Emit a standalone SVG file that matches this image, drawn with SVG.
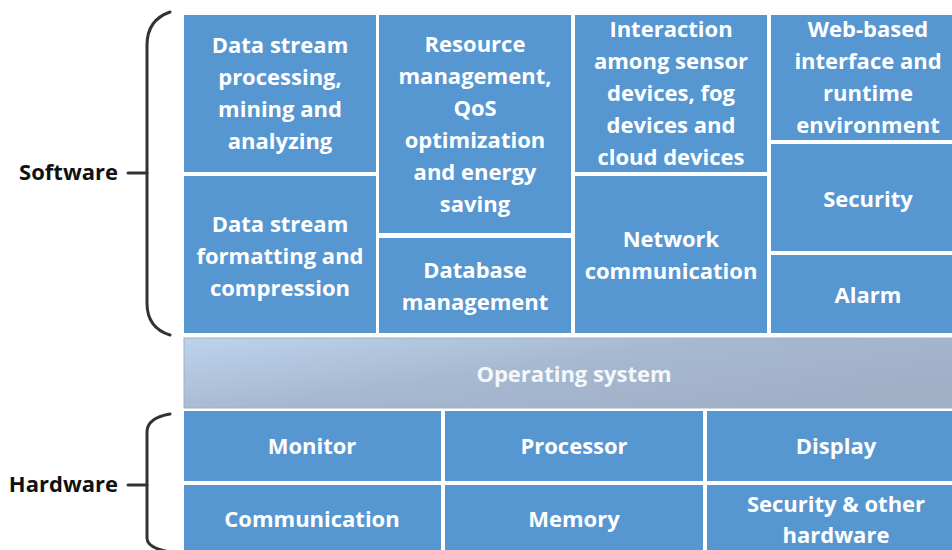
<svg xmlns="http://www.w3.org/2000/svg" width="952" height="550" viewBox="0 0 952 550">
<style>
.box{fill:#5797D1;}
.t{font-family:"Open Sans","Liberation Sans",sans-serif;font-weight:700;font-size:22px;fill:#ffffff;text-anchor:middle;}
.lab{font-family:"Open Sans","Liberation Sans",sans-serif;font-weight:700;font-size:22px;fill:#111111;text-anchor:end;}
.br{fill:none;stroke:#333333;stroke-width:3;stroke-linecap:round;}
.os{font-family:"Open Sans","Liberation Sans",sans-serif;font-weight:700;font-size:22px;fill:#f4f7fb;text-anchor:middle;}
</style>
<defs>
<linearGradient id="osg" x1="0" y1="0" x2="1" y2="0.6">
<stop offset="0" stop-color="#BDD3EC"/>
<stop offset="0.5" stop-color="#A6B9D1"/>
<stop offset="1" stop-color="#A0AFC6"/>
</linearGradient>
</defs>
<rect width="952" height="550" fill="#ffffff"/>

<g id="labels">
<g id="software-label">
<path class="br" d="M170,12 Q147,20 147,45 L147,303 Q147,328 170,335"/>
<line class="br" x1="128" y1="173" x2="147" y2="173"/>
<text class="lab" x="118" y="180">Software</text>
</g>
<g id="hardware-label">
<path class="br" d="M170,414 Q147,418 147,432 L147,538 Q147,548 170,552"/>
<line class="br" x1="128" y1="485" x2="147" y2="485"/>
<text class="lab" x="118" y="492">Hardware</text>
</g>
</g>

<g id="n1"><rect class="box" x="184" y="15" width="192" height="157"/>
<text class="t"><tspan x="280" y="53">Data stream</tspan><tspan x="280" y="85">processing,</tspan><tspan x="280" y="117">mining and</tspan><tspan x="280" y="149">analyzing</tspan></text></g>

<g id="n2"><rect class="box" x="184" y="176" width="192" height="157"/>
<text class="t"><tspan x="280" y="232">Data stream</tspan><tspan x="280" y="264">formatting and</tspan><tspan x="280" y="296">compression</tspan></text></g>

<g id="n3"><rect class="box" x="379" y="15" width="192" height="218"/>
<text class="t"><tspan x="475" y="52">Resource</tspan><tspan x="475" y="84">management,</tspan><tspan x="475" y="116">QoS</tspan><tspan x="475" y="148">optimization</tspan><tspan x="475" y="180">and energy</tspan><tspan x="475" y="212">saving</tspan></text></g>

<g id="n4"><rect class="box" x="379" y="238" width="192" height="95"/>
<text class="t"><tspan x="475" y="278">Database</tspan><tspan x="475" y="310">management</tspan></text></g>

<g id="n5"><rect class="box" x="575" y="15" width="192" height="157"/>
<text class="t"><tspan x="671" y="37">Interaction</tspan><tspan x="671" y="69">among sensor</tspan><tspan x="671" y="101">devices, fog</tspan><tspan x="671" y="133">devices and</tspan><tspan x="671" y="165">cloud devices</tspan></text></g>

<g id="n6"><rect class="box" x="575" y="176" width="192" height="157"/>
<text class="t"><tspan x="671" y="247">Network</tspan><tspan x="671" y="279">communication</tspan></text></g>

<g id="n7"><rect class="box" x="771" y="15" width="190" height="125"/>
<text class="t"><tspan x="868" y="37">Web-based</tspan><tspan x="868" y="69">interface and</tspan><tspan x="868" y="101">runtime</tspan><tspan x="868" y="133">environment</tspan></text></g>

<g id="n8"><rect class="box" x="771" y="144" width="190" height="107"/>
<text class="t" x="868" y="207">Security</text></g>

<g id="n9"><rect class="box" x="771" y="255" width="190" height="78"/>
<text class="t" x="868" y="303">Alarm</text></g>

<g id="os"><rect x="184" y="338" width="780" height="70" fill="url(#osg)" stroke="#9fb0c6" stroke-width="1"/>
<text class="os" x="574" y="382">Operating system</text></g>

<g id="h1"><rect class="box" x="184" y="411" width="257" height="70"/>
<text class="t" x="312" y="454">Monitor</text></g>
<g id="h2"><rect class="box" x="445" y="411" width="258" height="70"/>
<text class="t" x="574" y="454">Processor</text></g>
<g id="h3"><rect class="box" x="707" y="411" width="255" height="70"/>
<text class="t" x="836" y="454">Display</text></g>
<g id="h4"><rect class="box" x="184" y="485" width="257" height="70"/>
<text class="t" x="312" y="527">Communication</text></g>
<g id="h5"><rect class="box" x="445" y="485" width="258" height="70"/>
<text class="t" x="574" y="527">Memory</text></g>
<g id="h6"><rect class="box" x="707" y="485" width="255" height="70"/>
<text class="t"><tspan x="836" y="512">Security &amp; other</tspan><tspan x="836" y="543">hardware</tspan></text></g>

<g id="connectors"></g>
</svg>
